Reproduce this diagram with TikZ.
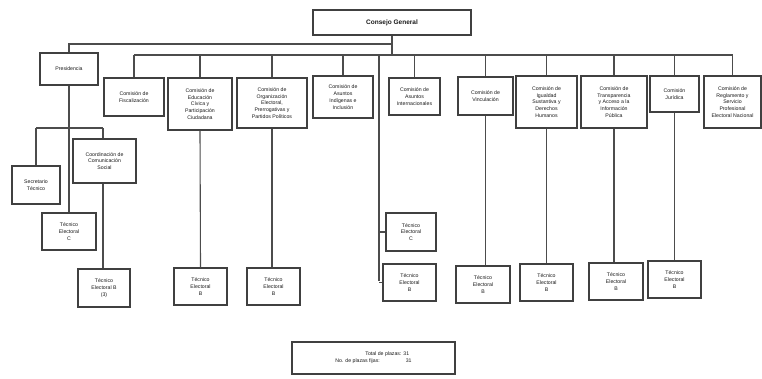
\documentclass[tikz,border=0pt]{standalone}
\usepackage{fontspec}
\setmainfont{Liberation Sans}
\begin{document}
\begin{tikzpicture}[x=1pt,y=-1pt,
  box/.style={draw=black!75, line width=1.1pt, align=center, inner sep=1pt,
    text=black!90, font=\fontsize{5.2}{6.8}\selectfont},
  conn/.style={draw=black!70, line width=1.1pt}]
\useasboundingbox (0,0) rectangle (762,379);
% top
\node[box, minimum width=158pt, minimum height=25pt, font=\fontsize{6.5}{7.5}\selectfont\bfseries] (cg) at (392,22.5) {Consejo General};
\node[box, minimum width=58pt, minimum height=32pt] (pres) at (69,69) {Presidencia};
% commissions
\node[box, minimum width=60pt, minimum height=38pt] (c1) at (134,97) {Comisión de\\Fiscalización};
\node[box, minimum width=64pt, minimum height=52pt] (c2) at (200,104) {Comisión de\\Educación\\Cívica y\\Participación\\Ciudadana};
\node[box, minimum width=70pt, minimum height=50pt] (c3) at (272,103) {Comisión de\\Organización\\Electoral,\\Prerrogativas y\\Partidos Políticos};
\node[box, minimum width=60pt, minimum height=42pt] (c4) at (343,97) {Comisión de\\Asuntos\\Indígenas e\\Inclusión};
\node[box, minimum width=51pt, minimum height=37pt] (c5) at (414.5,96.5) {Comisión de\\Asuntos\\Internacionales};
\node[box, minimum width=55pt, minimum height=38pt] (c6) at (485.5,96) {Comisión de\\Vinculación};
\node[box, minimum width=61pt, minimum height=52pt] (c7) at (546.5,102) {Comisión de\\Igualdad\\Sustantiva y\\Derechos\\Humanos};
\node[box, minimum width=66pt, minimum height=52pt] (c8) at (614,102) {Comisión de\\Transparencia\\y Acceso a la\\Información\\Pública};
\node[box, minimum width=49pt, minimum height=36pt] (c9) at (674.5,94) {Comisión\\Jurídica};
\node[box, minimum width=57pt, minimum height=52pt] (c10) at (732.5,102) {Comisión de\\Reglamento y\\Servicio\\Profesional\\Electoral Nacional};
% presidency branch
\node[box, minimum width=48pt, minimum height=38pt] (sec) at (36,185) {Secretario\\Técnico};
\node[box, minimum width=63pt, minimum height=44pt] (coord) at (104.5,161) {Coordinación de\\Comunicación\\Social};
\node[box, minimum width=54pt, minimum height=37pt] (tc) at (69,231.5) {Técnico\\Electoral\\C};
\node[box, minimum width=52pt, minimum height=38pt] (tb3) at (104,288) {Técnico\\Electoral B\\(3)};
% technicians
\node[box, minimum width=53pt, minimum height=37pt] (t2) at (200.5,286.5) {Técnico\\Electoral\\B};
\node[box, minimum width=53pt, minimum height=37pt] (t3) at (273.5,286.5) {Técnico\\Electoral\\B};
\node[box, minimum width=50pt, minimum height=38pt] (t5a) at (411,232) {Técnico\\Electoral\\C};
\node[box, minimum width=53pt, minimum height=37pt] (t5b) at (409.5,282.5) {Técnico\\Electoral\\B};
\node[box, minimum width=54pt, minimum height=37pt] (t6) at (483,284.5) {Técnico\\Electoral\\B};
\node[box, minimum width=53pt, minimum height=37pt] (t7) at (546.5,282.5) {Técnico\\Electoral\\B};
\node[box, minimum width=54pt, minimum height=37pt] (t8) at (616,281.5) {Técnico\\Electoral\\B};
\node[box, minimum width=53pt, minimum height=37pt] (t9) at (674.5,279.5) {Técnico\\Electoral\\B};
% total
\node[box, minimum width=163pt, minimum height=32pt, align=left] (total) at (373.5,358) {\hspace*{30pt}Total de plazas: 31\\No. de plazas fijas:\hspace{26pt}31};
% connector coordinates
\coordinate (presbar) at (393,44);
\coordinate (barL) at (134,55);
\coordinate (barR) at (732.5,55);
\coordinate (iline) at (379,55);
\coordinate (iend) at (379,281);
\coordinate (pbL) at (36,128);
\coordinate (pbR) at (103,128);
% connectors
\draw[conn] (cg.south) -- (cg.south |- barL);
\draw[conn] (pres.north) |- (presbar);
\draw[conn] (barL) -- (barR);
\foreach \c in {c1,c2,c3,c4,c5,c6,c7,c8,c9,c10}{
  \draw[conn] (\c.north) -- (\c.north |- barL);
}
\draw[conn] (iline) -- (iend);
\draw[conn] (t5a.west) -- (t5a.west -| iline);
\draw[conn] (t5b.west) -- (t5b.west -| iline);
\draw[conn] (pres.south) -- (tc.north);
\draw[conn] (pbL) -- (pbR);
\draw[conn] (sec.north) -- (sec.north |- pbL);
\draw[conn] (coord.north -| pbR) -- (pbR);
\draw[conn] (coord.south -| pbR) -- (tb3.north -| pbR);
\draw[conn] (c2.south) -- (t2.north);
\draw[conn] (c3.south) -- (c3.south |- t3.north);
\draw[conn] (c6.south) -- (c6.south |- t6.north);
\draw[conn] (c7.south) -- (t7.north);
\draw[conn] (c8.south) -- (c8.south |- t8.north);
\draw[conn] (c9.south) -- (t9.north);
\end{tikzpicture}
\end{document}
